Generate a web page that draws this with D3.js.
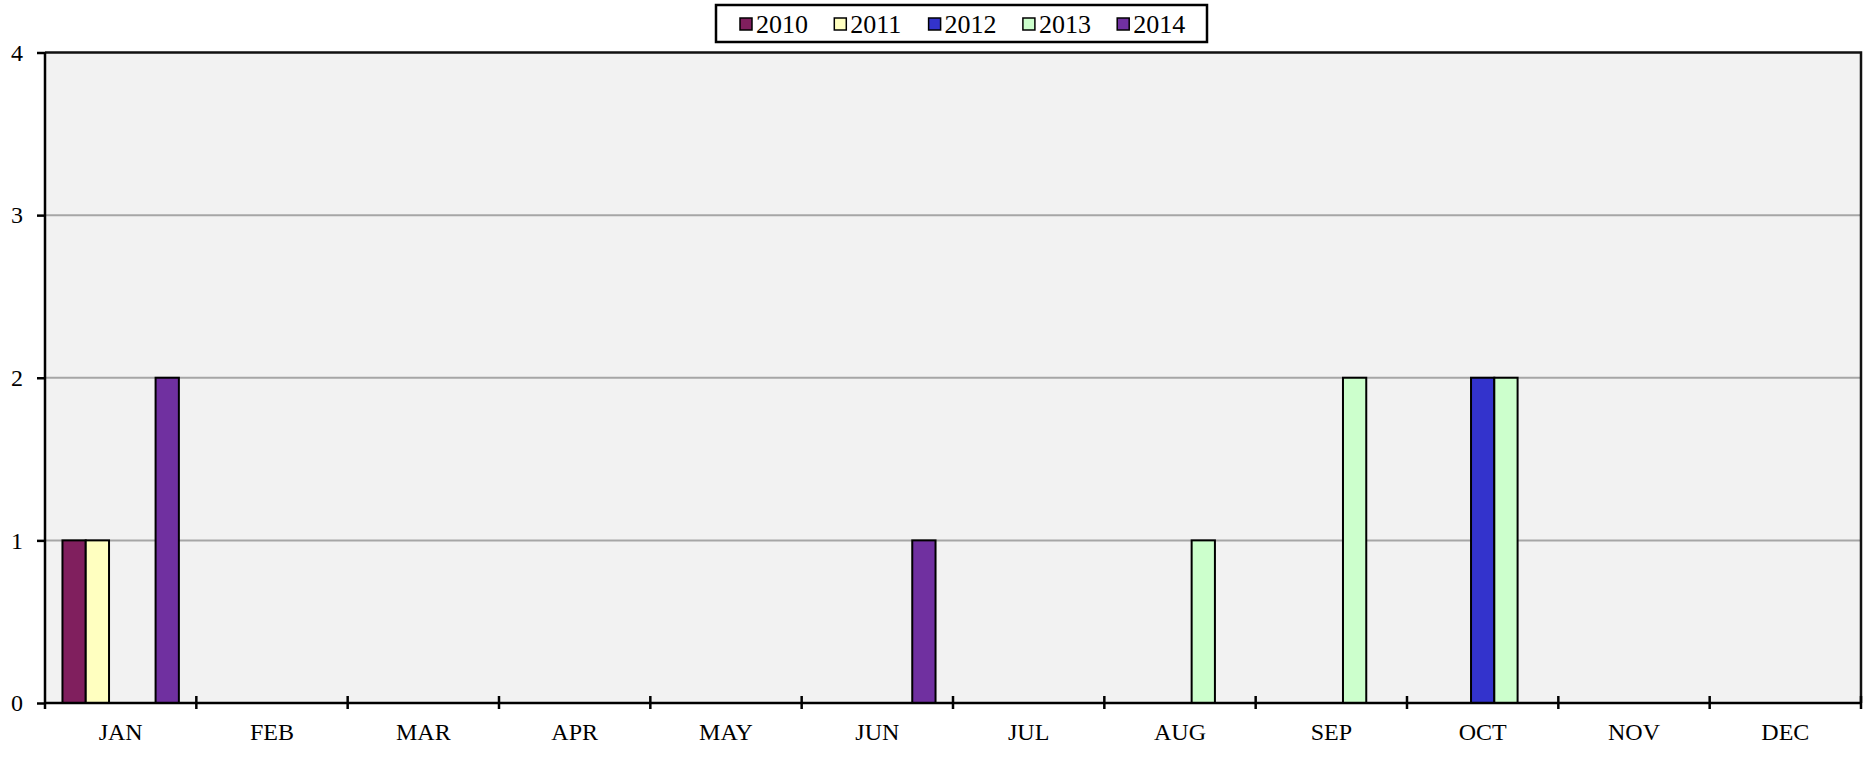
<!DOCTYPE html>
<html>
<head>
<meta charset="utf-8">
<script src="https://cdn.jsdelivr.net/npm/d3@7"></script>
<style>
    body { margin: 0; background: #fff; }
    svg { display: block; font-family: "Liberation Serif", "Times New Roman", serif; }
</style>
</head>
<body>
<div id="chart"></div>
<script>
const months = ["JAN", "FEB", "MAR", "APR", "MAY", "JUN", "JUL", "AUG", "SEP", "OCT", "NOV", "DEC"];
const years = ["2010", "2011", "2012", "2013", "2014"];
const colors = ["#801f5e", "#ffffc0", "#3333cc", "#ccffcc", "#7030a0"];

// counts per month, one array per year
const v2010 = [1, 0, 0, 0, 0, 0, 0, 0, 0, 0, 0, 0];
const v2011 = [1, 0, 0, 0, 0, 0, 0, 0, 0, 0, 0, 0];
const v2012 = [0, 0, 0, 0, 0, 0, 0, 0, 0, 2, 0, 0];
const v2013 = [0, 0, 0, 0, 0, 0, 0, 1, 2, 2, 0, 0];
const v2014 = [2, 0, 0, 0, 0, 1, 0, 0, 0, 0, 0, 0];
const yTicks = [0, 1, 2, 3, 4];

const series = [v2010, v2011, v2012, v2013, v2014];

const width = 1866;
const height = 782;
const margin = {left: 45, right: 5, top: 52.5, bottom: 79};

const svg = d3.select("#chart").append("svg")
    .attr("width", width).attr("height", height);

const x0 = d3.scaleBand()
    .domain(months)
    .range([margin.left, width - margin.right]);

const x1 = d3.scaleBand()
    .domain(years)
    .range([0, x0.bandwidth()])
    .paddingInner(0)
    .paddingOuter(0.75);

const y = d3.scaleLinear()
    .domain([0, 4])
    .range([height - margin.bottom, margin.top]);

// plot area background
svg.append("rect")
    .attr("x", margin.left).attr("y", margin.top)
    .attr("width", width - margin.right - margin.left)
    .attr("height", y(0) - margin.top)
    .attr("fill", "#f2f2f2");

// gridlines
svg.append("g")
    .selectAll("line")
    .data(yTicks.filter(d => d > 0 && d < 4))
    .join("line")
    .attr("x1", margin.left).attr("x2", width - margin.right)
    .attr("y1", d => y(d)).attr("y2", d => y(d))
    .attr("stroke", "#a6a6a6")
    .attr("stroke-width", 2);

// bars
const rows = [];
series.forEach((vals, i) => {
    vals.forEach((v, j) => {
        if (v > 0) rows.push({year: years[i], month: months[j], value: v, color: colors[i]});
    });
});

svg.append("g")
    .selectAll("rect")
    .data(rows)
    .join("rect")
    .attr("x", d => x0(d.month) + x1(d.year))
    .attr("y", d => y(d.value))
    .attr("width", x1.bandwidth())
    .attr("height", d => y(0) - y(d.value))
    .attr("fill", d => d.color)
    .attr("stroke", "#000")
    .attr("stroke-width", 2);

// plot border (top and right)
svg.append("path")
    .attr("d", `M${margin.left},${margin.top}H${width - margin.right}V${y(0)}`)
    .attr("fill", "none")
    .attr("stroke", "#111")
    .attr("stroke-width", 2.5);

// y axis
const yAxis = svg.append("g")
    .attr("transform", `translate(${margin.left},0)`)
    .call(d3.axisLeft(y).tickValues(yTicks).tickFormat(d3.format("d")).tickSize(8).tickPadding(14));
yAxis.select(".domain").remove();
yAxis.selectAll(".tick line").attr("stroke", "#000").attr("stroke-width", 2.5);
yAxis.selectAll(".tick text")
    .attr("font-size", 24)
    .attr("font-family", "Liberation Serif, Times New Roman, serif")
    .attr("fill", "#000");

svg.append("line")
    .attr("x1", margin.left).attr("x2", margin.left)
    .attr("y1", margin.top).attr("y2", y(0) + 6)
    .attr("stroke", "#000").attr("stroke-width", 2.5);

// x axis
const xAxis = svg.append("g")
    .attr("transform", `translate(0,${y(0)})`)
    .call(d3.axisBottom(x0).tickSize(0).tickPadding(20));
xAxis.select(".domain").remove();
xAxis.selectAll(".tick text")
    .attr("font-size", 24)
    .attr("font-family", "Liberation Serif, Times New Roman, serif")
    .attr("fill", "#000");

svg.append("line")
    .attr("x1", margin.left).attr("x2", width - margin.right)
    .attr("y1", y(0)).attr("y2", y(0))
    .attr("stroke", "#000").attr("stroke-width", 2.5);

svg.append("g")
    .selectAll("line")
    .data(months.slice(1).concat(["end"]))
    .join("line")
    .attr("x1", d => d === "end" ? width - margin.right : x0(d))
    .attr("x2", d => d === "end" ? width - margin.right : x0(d))
    .attr("y1", y(0) - 7).attr("y2", y(0) + 6)
    .attr("stroke", "#000").attr("stroke-width", 2.5);

// legend
const legend = svg.append("g").attr("transform", "translate(716,5)");
legend.append("rect")
    .attr("width", 491).attr("height", 37)
    .attr("fill", "#fff")
    .attr("stroke", "#000")
    .attr("stroke-width", 2.5);

const item = legend.selectAll("g.item")
    .data(years)
    .join("g")
    .attr("class", "item")
    .attr("transform", (d, i) => `translate(${24 + i * 94.3},0)`);

item.append("rect")
    .attr("y", 13).attr("width", 12).attr("height", 12)
    .attr("fill", (d, i) => colors[i])
    .attr("stroke", "#000").attr("stroke-width", 1.5);

item.append("text")
    .attr("x", 16).attr("y", 28)
    .attr("font-size", 26)
    .text(d => d);
</script>
</body>
</html>
